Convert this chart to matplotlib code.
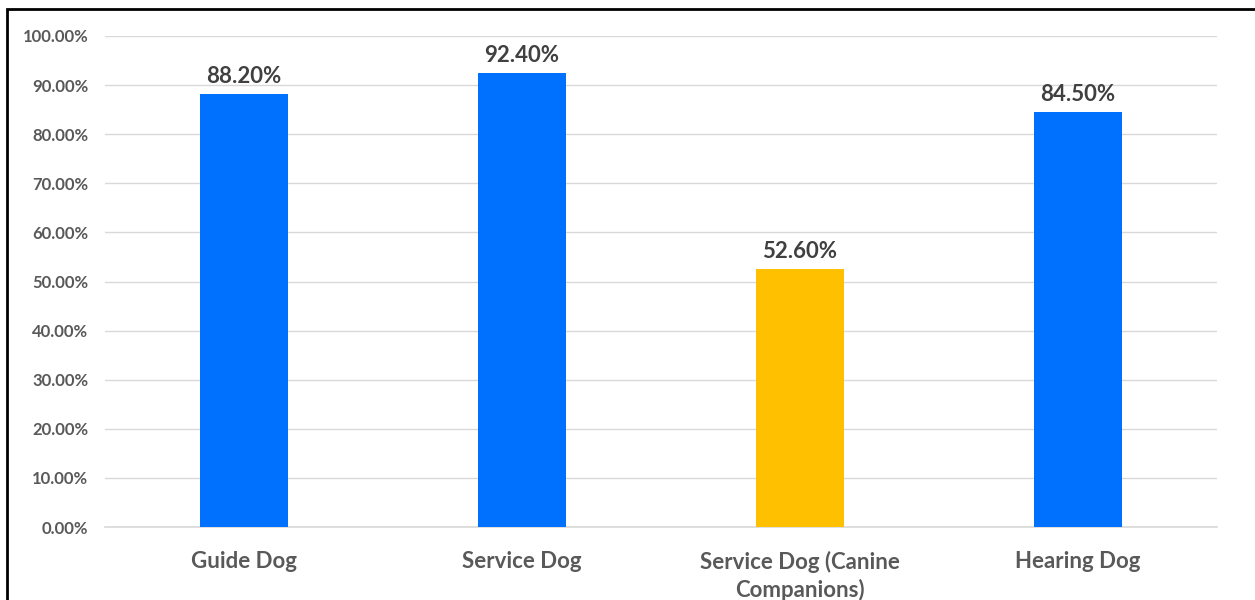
import matplotlib.pyplot as plt
from matplotlib.patches import Rectangle
from matplotlib.ticker import FuncFormatter

categories = ['Guide Dog', 'Service Dog', 'Service Dog (Canine\nCompanions)', 'Hearing Dog']
values = [88.2, 92.4, 52.6, 84.5]
colors = ['#0070FF', '#0070FF', '#FFC000', '#0070FF']

plt.rcParams['font.family'] = ['Lato', 'DejaVu Sans']

fig = plt.figure(figsize=(12.55, 6.0), dpi=100)
ax = fig.add_axes([105 / 1255, 1 - 527 / 600, 1112 / 1255, 491 / 600])

x = range(len(categories))
bars = ax.bar(x, values, width=0.313, color=colors, zorder=3)

for b, v in zip(bars, values):
    ax.annotate('%.2f%%' % v, (b.get_x() + b.get_width() / 2, v),
                xytext=(0, 5), textcoords='offset points',
                ha='center', va='bottom', fontsize=16, fontweight='bold',
                color='#404040')

ax.set_xlim(-0.5, 3.5)
ax.set_ylim(0, 100)
ax.set_yticks(range(0, 101, 10))
ax.yaxis.set_major_formatter(FuncFormatter(lambda v, p: '%.2f%%' % v))
ax.set_xticks(list(x))
ax.set_xticklabels(categories, linespacing=1.35)

ax.grid(axis='y', color='#D9D9D9', linewidth=1, zorder=0)
for s in ['top', 'right', 'left']:
    ax.spines[s].set_visible(False)
ax.spines['bottom'].set_color('#D9D9D9')
ax.spines['bottom'].set_linewidth(1.2)

ax.tick_params(axis='y', length=0, pad=12, labelsize=12, labelcolor='#595959')
ax.tick_params(axis='x', length=0, pad=17, labelsize=16, labelcolor='#595959')
for lbl in ax.get_yticklabels() + ax.get_xticklabels():
    lbl.set_fontweight('bold')

# frame around the chart area
fig.patches.append(Rectangle((7 / 1255, -0.05), 1.1, 1 - 9 / 600 + 0.05,
                             transform=fig.transFigure, fill=False,
                             edgecolor='black', linewidth=2))

fig.savefig('out.png', dpi=100)
